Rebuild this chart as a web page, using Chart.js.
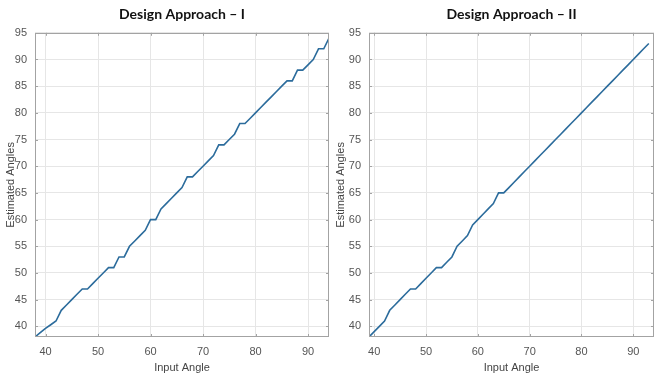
<!DOCTYPE html>
<html>
<head>
<meta charset="utf-8">
<title>Design Approach</title>
<script src="https://cdn.jsdelivr.net/npm/chart.js"></script>
<style>
  html, body { margin: 0; padding: 0; background: #fff; }
  .panel { position: absolute; top: 0; height: 380px; }
  #left { left: 0; width: 330px; }
  #right { left: 330px; width: 326px; }
</style>
</head>
<body>
<div class="panel" id="left"><canvas id="chartI"></canvas></div>
<div class="panel" id="right"><canvas id="chartII"></canvas></div>
<script>
// input angle vs estimated angle
const inputAngleI = [38, 39, 40, 41, 42, 43, 44, 45, 46, 47, 48, 49, 50, 51, 52, 53, 54, 55, 56, 57, 58, 59, 60, 61, 62, 63, 64, 65, 66,
  67, 68, 69, 70, 71, 72, 73, 74, 75, 76, 77, 78, 79, 80, 81, 82, 83, 84, 85, 86, 87, 88, 89, 90, 91, 92, 93, 94];
const estimatedI = [38, 38.8, 39.6, 40.3, 41, 43, 44, 45, 46, 47, 47, 48, 49, 50, 51, 51, 53, 53, 55, 56, 57, 58, 60, 60, 62, 63, 64, 65, 66,
  68, 68, 69, 70, 71, 72, 74, 74, 75, 76, 78, 78, 79, 80, 81, 82, 83, 84, 85, 86, 86, 88, 88, 89, 90, 92, 92, 94];

const inputAngleII = [39, 40, 41, 42, 43, 44, 45, 46, 47, 48, 49, 50, 51, 52, 53, 54, 55, 56, 57, 58, 59, 60, 61, 62, 63, 64, 65, 66,
  67, 68, 69, 70, 71, 72, 73, 74, 75, 76, 77, 78, 79, 80, 81, 82, 83, 84, 85, 86, 87, 88, 89, 90, 91, 92, 93];
const estimatedII = [38, 39, 40, 41, 43, 44, 45, 46, 47, 47, 48, 49, 50, 51, 51, 52, 53, 55, 56, 57, 59, 60, 61, 62, 63, 65, 65, 66,
  67, 68, 69, 70, 71, 72, 73, 74, 75, 76, 77, 78, 79, 80, 81, 82, 83, 84, 85, 86, 87, 88, 89, 90, 91, 92, 93];

const xTicks = [40, 50, 60, 70, 80, 90];
const yTicks = [40, 45, 50, 55, 60, 65, 70, 75, 80, 85, 90, 95];
const titles = ['Design Approach – I', 'Design Approach – II'];

const labelFont = { family: 'Liberation Sans', size: 11 };

// matlab style box round the plot, with short inward ticks
const axesBox = {
  id: 'axesBox',
  afterDatasetsDraw(chart) {
    const { ctx, chartArea: a, scales: { x, y } } = chart;
    ctx.save();
    ctx.strokeStyle = '#a3a3a3';
    ctx.lineWidth = 1;
    ctx.strokeRect(Math.round(a.left) + 0.5, Math.round(a.top) + 0.5, Math.round(a.width) - 1, Math.round(a.height) - 1);
    ctx.beginPath();
    xTicks.forEach(v => {
      const px = Math.round(x.getPixelForValue(v)) + 0.5;
      ctx.moveTo(px, a.bottom); ctx.lineTo(px, a.bottom - 3);
      ctx.moveTo(px, a.top); ctx.lineTo(px, a.top + 3);
    });
    yTicks.forEach(v => {
      const py = Math.round(y.getPixelForValue(v)) + 0.5;
      ctx.moveTo(a.left, py); ctx.lineTo(a.left + 3, py);
      ctx.moveTo(a.right, py); ctx.lineTo(a.right - 3, py);
    });
    ctx.stroke();
    ctx.restore();
  }
};

function makeChart(id, xs, ys, title, xMin, xMax, yWidth, padRight) {
  const ctx = document.getElementById(id).getContext('2d');
  return new Chart(ctx, {
    type: 'scatter',
    data: {
      datasets: [{
        data: xs.map((v, i) => ({ x: v, y: ys[i] })),
        showLine: true,
        borderColor: '#2c6c9c',
        borderWidth: 1.6,
        pointRadius: 0,
        tension: 0
      }]
    },
    options: {
      responsive: true,
      maintainAspectRatio: false,
      animation: false,
      layout: { padding: { left: 0, right: padRight, top: 0, bottom: 0 } },
      plugins: {
        legend: { display: false },
        tooltip: { enabled: false },
        title: {
          display: true,
          text: title,
          fullSize: false,
          color: '#111',
          font: { family: 'Lato', size: 14, weight: 'bold' },
          padding: { top: 6, bottom: 10 }
        }
      },
      scales: {
        x: {
          type: 'linear',
          min: xMin,
          max: xMax,
          afterBuildTicks: axis => { axis.ticks = xTicks.map(v => ({ value: v })); },
          afterFit: axis => { axis.height = 43; },
          grid: { color: '#e6e6e6', drawTicks: false },
          border: { display: false },
          ticks: { color: '#555', font: labelFont, padding: 8, maxRotation: 0 },
          title: { display: true, text: 'Input Angle', color: '#444', font: labelFont, padding: { top: 0, bottom: 5 } }
        },
        y: {
          type: 'linear',
          min: 38,
          max: 95,
          afterBuildTicks: axis => { axis.ticks = yTicks.map(v => ({ value: v })); },
          afterFit: axis => { axis.width = yWidth; },
          grid: { color: '#e6e6e6', drawTicks: false },
          border: { display: false },
          ticks: { color: '#555', font: labelFont, padding: 8 },
          title: { display: true, text: 'Estimated Angles', color: '#444', font: labelFont, padding: { top: 4, bottom: 0 } }
        }
      }
    },
    plugins: [axesBox]
  });
}

makeChart('chartI', inputAngleI, estimatedI, titles[0], 38, 94, 35, 1);
makeChart('chartII', inputAngleII, estimatedII, titles[1], 39, 94, 39, 2);
</script>
</body>
</html>
